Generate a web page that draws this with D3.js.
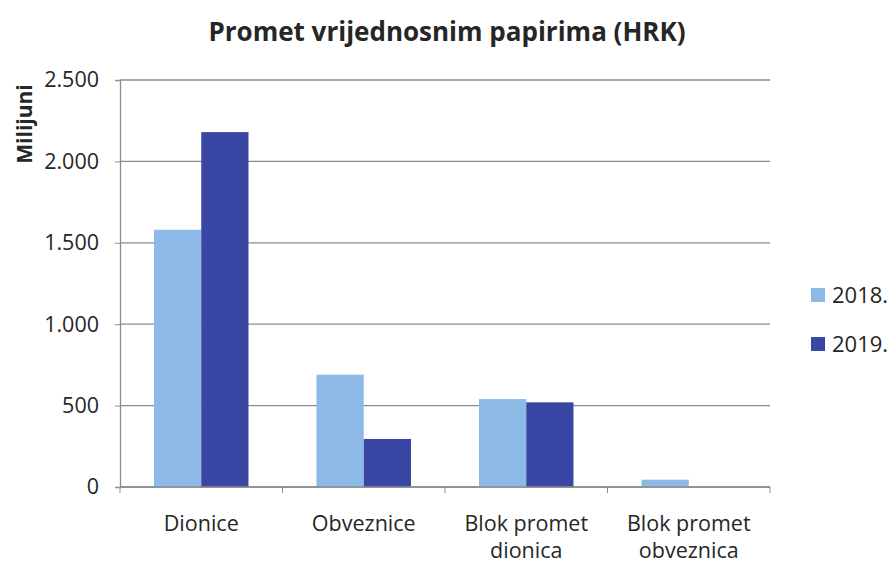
<!DOCTYPE html>
<html><head><meta charset="utf-8">
<script src="https://cdn.jsdelivr.net/npm/d3@7"></script>
<style>body{margin:0;background:#fff}svg{display:block}text{font-family:"Open Sans",sans-serif;fill:#262626}</style>
</head><body><svg id="c" width="893" height="563"></svg>
<script>
const categories = [["Dionice"],["Obveznice"],["Blok promet","dionica"],["Blok promet","obveznica"]];
const seriesNames = ["2018.","2019."];
const values2018 = [1580, 690, 540, 45];
const values2019 = [2180, 295, 520, 0];
const yTicks = [0,500,1000,1500,2000,2500];
const colors = ["#8db9e6","#3946a3"];

const svg = d3.select("#c");
const m = {l:120, r:123, t:80, b:76};
const W = 893, H = 563;
const x = d3.scaleBand().domain(d3.range(categories.length)).range([m.l, W-m.r]).paddingInner(0).paddingOuter(0);
const y = d3.scaleLinear().domain([0,2500]).range([H-m.b, m.t]);
const fmt = v => d3.format(",")(v).replace(/,/g,".");

// gridlines
svg.append("g").selectAll("line").data(yTicks).join("line")
  .attr("x1", m.l).attr("x2", W-m.r).attr("y1", d=>y(d)).attr("y2", d=>y(d))
  .attr("stroke","#8c8c8c").attr("stroke-width",1.3);

// y axis
const ya = svg.append("g").attr("transform",`translate(${m.l},0)`)
  .call(d3.axisLeft(y).tickValues(yTicks).tickFormat(fmt).tickSize(5).tickPadding(16));
ya.select(".domain").attr("stroke","#8c8c8c").attr("stroke-width",1.3);
ya.selectAll(".tick line").attr("stroke","#8c8c8c");
ya.selectAll("text").attr("font-size",21.5).style("fill","#262626");

// bars
const sub = d3.scaleBand().domain([0,1]).range([0, x.bandwidth()]).paddingInner(0).paddingOuter(0.72);
const data = [values2018, values2019];
data.forEach((vals, si) => {
  svg.append("g").selectAll("rect").data(vals).join("rect")
    .attr("x",(d,i)=>x(i)+sub(si)).attr("width",sub.bandwidth())
    .attr("y",d=>y(d)).attr("height",d=>y(0)-y(d)).attr("fill",colors[si]);
});

// x axis
const xa = svg.append("g").attr("transform",`translate(0,${y(0)})`);
xa.append("line").attr("x1",m.l).attr("x2",W-m.r).attr("stroke","#8c8c8c").attr("stroke-width",1.3);
const bounds = d3.range(categories.length+1).map(i => i<categories.length ? x(i) : x(categories.length-1)+x.bandwidth());
xa.selectAll(".t").data(bounds).join("line").attr("class","t")
  .attr("x1",d=>d).attr("x2",d=>d).attr("y1",0).attr("y2",6).attr("stroke","#8c8c8c");
categories.forEach((lines,i)=>{
  const t = xa.append("text").attr("text-anchor","middle").attr("font-size",21.5)
    .attr("x", x(i)+x.bandwidth()/2).attr("y", 44);
  lines.forEach((ln,j)=> t.append("tspan").attr("x", x(i)+x.bandwidth()/2).attr("dy", j?27:0).text(ln));
});

// title
svg.append("text").attr("x",447).attr("y",41).attr("text-anchor","middle")
  .attr("font-size",26).attr("font-weight","bold").text("Promet vrijednosnim papirima (HRK)");
// y label
svg.append("text").attr("transform","translate(32,124) rotate(-90)").attr("text-anchor","middle")
  .attr("font-size",21).attr("font-weight","bold").text("Milijuni");

// legend
const lg = svg.append("g");
seriesNames.forEach((s,i)=>{
  lg.append("rect").attr("x",811).attr("y",288+i*49).attr("width",14).attr("height",14).attr("fill",colors[i]);
  lg.append("text").attr("x",832).attr("y",303+i*49).attr("font-size",22).text(s);
});
</script></body></html>
